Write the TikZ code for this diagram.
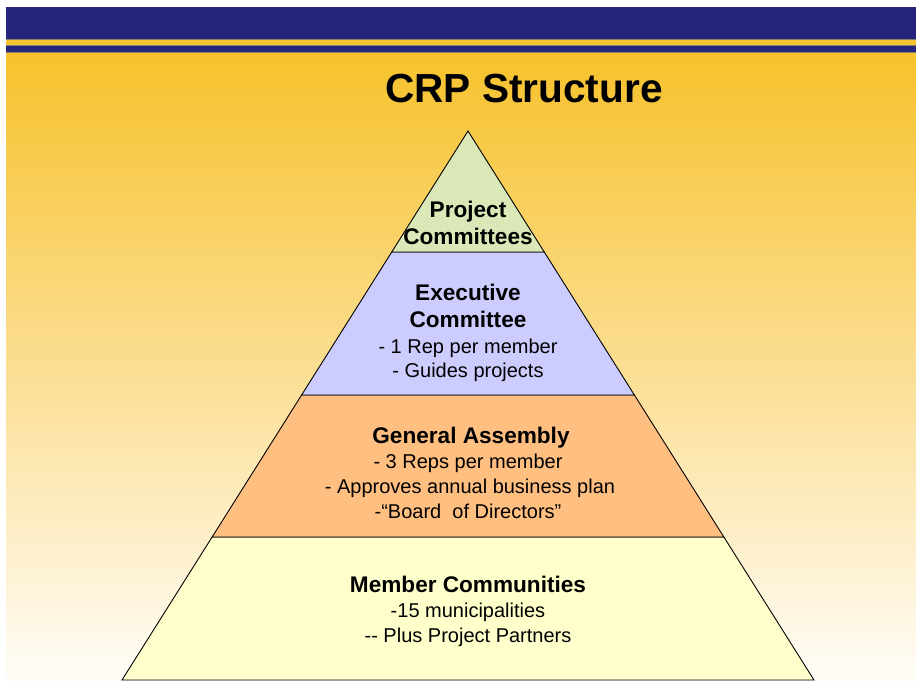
\documentclass[tikz,border=0pt]{standalone}
\usepackage{fontspec}
\setmainfont{Liberation Sans}
\usetikzlibrary{calc}
\definecolor{navy}{HTML}{25267B}
\definecolor{stripegold}{HTML}{F6C332}
\definecolor{stripegray}{HTML}{8A7F6A}
\definecolor{gTop}{HTML}{F7C22C}
\definecolor{gMid}{HTML}{FBDE92}
\definecolor{gBot}{HTML}{FFFDF8}
\definecolor{tierA}{HTML}{D9E8B6}
\definecolor{tierB}{HTML}{CCCCFF}
\definecolor{tierC}{HTML}{FFBF80}
\definecolor{tierD}{HTML}{FFFFCC}
\begin{document}
\begin{tikzpicture}[x=1pt,y=-1pt,
  tbold/.style={font=\fontsize{22.6}{26}\selectfont\bfseries, anchor=base, inner sep=0pt},
  treg/.style={font=\fontsize{20}{24}\selectfont, anchor=base, inner sep=0pt},
  tier/.style={draw=black, line width=0.9pt, line join=miter}]
\useasboundingbox (0,0) rectangle (916,681);
\fill[white] (0,0) rectangle (916,681);
% background
\shade[top color=gTop, bottom color=gBot, middle color=gMid] (6,53) rectangle (916,681);
\fill[navy] (6,7) rectangle (916,39.5);
\fill[stripegold] (6,39.5) rectangle (916,45.5);
\fill[navy] (6,45.5) rectangle (916,52.5);
\draw[stripegray, line width=0.8pt] (6,39.5) -- (916,39.5);
\draw[stripegray, line width=0.8pt] (6,45.5) -- (916,45.5);
\draw[stripegray, line width=0.8pt] (6,52.5) -- (916,52.5);
% title
\node[font=\fontsize{40.6}{48}\selectfont\bfseries, anchor=base, inner sep=0pt] (title) at (524,102) {CRP Structure};
% pyramid geometry
\coordinate (apex) at (468,131);
\coordinate (bl) at (122,680);
\coordinate (br) at (814,680);
\coordinate (l1) at ($(apex)!0.2204!(bl)$);
\coordinate (r1) at ($(apex)!0.2204!(br)$);
\coordinate (l2) at ($(apex)!0.4809!(bl)$);
\coordinate (r2) at ($(apex)!0.4809!(br)$);
\coordinate (l3) at ($(apex)!0.7395!(bl)$);
\coordinate (r3) at ($(apex)!0.7395!(br)$);
\filldraw[tier, fill=tierD] (l3) -- (r3) -- (br) -- (bl) -- cycle;
\filldraw[tier, fill=tierC] (l2) -- (r2) -- (r3) -- (l3) -- cycle;
\filldraw[tier, fill=tierB] (l1) -- (r1) -- (r2) -- (l2) -- cycle;
\filldraw[tier, fill=tierA] (apex) -- (r1) -- (l1) -- cycle;
% texts
\node[tbold] (pc1) at (468,217) {Project};
\node[tbold] (pc2) at (468,244) {Committees};
\node[tbold] (ec1) at (468,300) {Executive};
\node[tbold] (ec2) at (468,327) {Committee};
\node[treg] (ec3) at (468,353) {- 1 Rep per member};
\node[treg] (ec4) at (468,377) {- Guides projects};
\node[tbold] (ga1) at (471,443) {General Assembly};
\node[treg] (ga2) at (468,468) {- 3 Reps per member};
\node[treg] (ga3) at (470,493) {- Approves annual business plan};
\node[treg] (ga4) at (468,518) {-“Board~~of Directors”};
\node[tbold] (mc1) at (468,592) {Member Communities};
\node[treg] (mc2) at (468,617) {-15 municipalities};
\node[treg] (mc3) at (468,642) {-{}- Plus Project Partners};
\end{tikzpicture}
\end{document}
